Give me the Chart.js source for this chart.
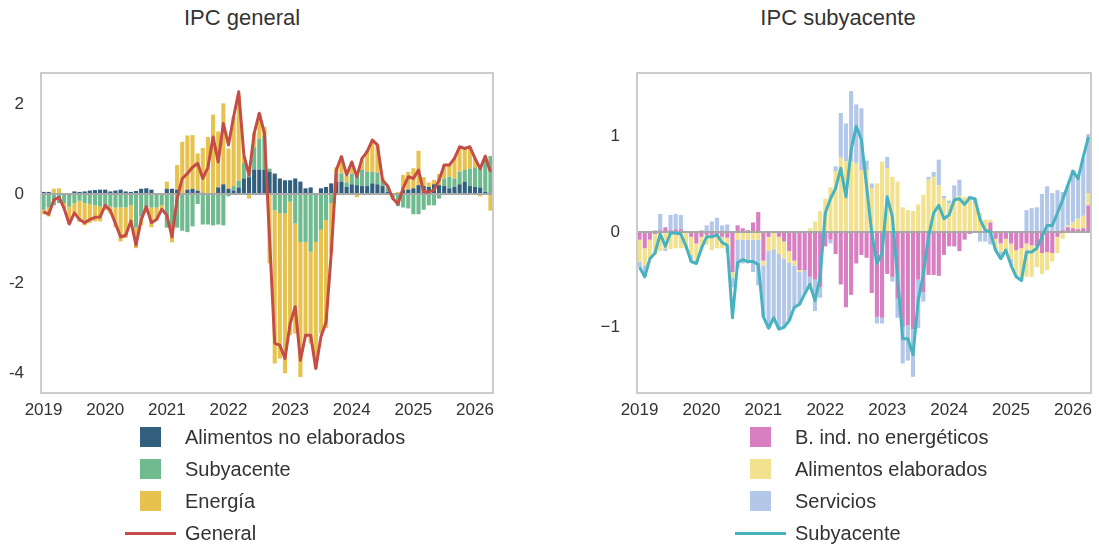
<!DOCTYPE html>
<html>
<head>
<meta charset="utf-8">
<script src="https://cdn.jsdelivr.net/npm/chart.js@4.4.1/dist/chart.umd.min.js"></script>
<style>
  body { margin: 0; background: #fff; font-family: "Liberation Sans", Arial, sans-serif; color: #333; }
  #page { position: relative; width: 1099px; height: 548px; overflow: hidden; }
  canvas { position: absolute; top: 70px; }
  .title { position: absolute; top: 6px; width: 400px; text-align: center; font-size: 22px; line-height: 24px; }
  .legend { position: absolute; top: 421px; left: 0; }
  .row { position: relative; height: 32px; }
  .box { position: absolute; top: 6px; width: 21px; height: 20px; }
  .ln { position: absolute; top: 15px; width: 51px; height: 3px; }
  .lbl { position: absolute; top: 0; font-size: 20px; line-height: 32px; white-space: nowrap; }
</style>
</head>
<body>
<div id="page">
  <div class="title" style="left:42px">IPC general</div>
  <div class="title" style="left:638px">IPC subyacente</div>
  <canvas id="chGeneral" width="496" height="360" style="left:0px"></canvas>
  <canvas id="chSubyacente" width="504" height="360" style="left:590px"></canvas>
  <div class="legend" id="legGeneral"></div>
  <div class="legend" id="legSubyacente"></div>
</div>
<script>
// months Jan 2019 .. Apr 2026
let months = [];
for (let y = 2019; y <= 2026; y++) {
  for (let k = 1; k <= 12; k++) months.push(y + "-" + (k < 10 ? "0" + k : k));
}
months = months.slice(0, 88);

let leftTicks = [-4, -2, 0, 2];
let rightTicks = [-1, 0, 1];

/* IPC general: contributions */
let alimNoElab = [
  0.05, 0.05, 0.00, 0.02, 0.00, -0.03, 0.06, 0.05, 0.06, 0.08, 0.09, 0.10,
  0.10, 0.06, 0.08, 0.10, 0.06, 0.05, 0.07, 0.12, 0.13, 0.10, 0.00, 0.00,
  0.12, 0.12, 0.10, 0.00, 0.10, 0.12, 0.08, 0.03, 0.00, 0.00, 0.15, 0.22,
  0.12, 0.08, 0.15, 0.35, 0.38, 0.55, 0.55, 0.55, 0.50, 0.46, 0.35, 0.31,
  0.31, 0.35, 0.28, 0.13, 0.15, 0.00, 0.13, 0.16, 0.24, 0.28, 0.28, 0.16,
  0.22, 0.20, 0.18, 0.18, 0.24, 0.22, 0.18, 0.05, 0.00, -0.02, 0.09, 0.10,
  0.13, 0.20, 0.18, 0.16, 0.22, 0.20, 0.18, 0.13, 0.16, 0.22, 0.28, 0.18,
  0.16, 0.15, 0.05, 0.03
];
let subyacente = [
  -0.35, -0.30, -0.25, -0.20, -0.20, -0.25, -0.20, -0.15, -0.20, -0.22, -0.25, -0.28,
  -0.30, -0.28, -0.30, -0.30, -0.30, -0.25, -0.75, -0.50, -0.30, -0.30, -0.30, -0.25,
  -0.75, -0.75, -0.75, -0.82, -0.85, -0.72, -0.22, -0.68, -0.68, -0.70, -0.68, -0.70,
  -0.05, 0.10, 0.15, 0.35, 0.15, 0.50, 0.69, 0.75, 0.07, -0.36, -0.43, -0.43,
  -0.17, -0.66, -1.07, -1.07, -1.29, -1.07, -0.80, -0.58, -0.20, 0.18, 0.18, 0.10,
  0.24, 0.25, 0.36, 0.32, 0.26, 0.26, 0.12, 0.10, -0.08, -0.25, -0.30, -0.32,
  -0.45, -0.45, -0.35, -0.25, -0.25, -0.10, 0.17, 0.26, 0.19, 0.28, 0.26, 0.39,
  0.44, 0.45, 0.79, 0.82
];
let energia = [
  -0.10, -0.20, 0.12, 0.11, -0.12, -0.39, -0.28, -0.47, -0.50, -0.43, -0.36, -0.33,
  -0.05, -0.15, -0.44, -0.76, -0.68, -0.40, -0.46, -0.20, -0.11, -0.44, -0.27, -0.09,
  0.16, -0.33, 0.55, 1.17, 1.21, 1.20, 0.83, 1.00, 1.28, 1.78, 1.25, 1.81,
  0.90, 1.55, 1.90, 0.14, -0.10, 0.31, 0.57, 0.20, -1.55, -3.43, -3.25, -3.58,
  -2.99, -2.46, -3.02, -2.12, -2.05, -2.83, -2.32, -2.42, -1.13, 0.14, 0.38, 0.15,
  0.26, -0.07, 0.26, 0.48, 0.67, 0.62, 0.07, 0.03, -0.02, 0.05, 0.34, 0.40,
  0.45, 0.77, 0.20, 0.10, 0.10, 0.25, 0.30, 0.26, 0.45, 0.52, 0.45, 0.45,
  0.20, -0.05, 0.00, -0.37
];
let general = [
  -0.40, -0.45, -0.13, -0.07, -0.32, -0.67, -0.42, -0.57, -0.64, -0.57, -0.52, -0.51,
  -0.25, -0.37, -0.66, -0.96, -0.92, -0.60, -1.14, -0.58, -0.28, -0.64, -0.57, -0.34,
  -0.47, -0.96, -0.10, 0.35, 0.46, 0.60, 0.69, 0.35, 0.60, 1.28, 0.72, 1.58,
  1.10, 1.73, 2.29, 0.87, 0.43, 1.36, 1.81, 1.36, -1.00, -3.34, -3.38, -3.68,
  -2.90, -2.52, -3.72, -3.16, -3.16, -3.90, -3.19, -2.86, -1.33, 0.54, 0.84, 0.43,
  0.72, 0.39, 0.80, 0.95, 1.21, 1.10, 0.31, 0.18, -0.10, -0.22, 0.13, 0.39,
  0.35, 0.54, 0.05, 0.05, 0.09, 0.31, 0.65, 0.65, 0.80, 1.06, 1.02, 1.06,
  0.80, 0.57, 0.85, 0.50
];

/* IPC subyacente: contributions */
let bIndNoEnerg = [
  -0.08, -0.17, -0.08, -0.02, 0.02, 0.05, 0.02, 0.03, 0.03, 0.00, -0.05, -0.12,
  -0.05, -0.03, -0.03, -0.02, -0.05, -0.06, -0.42, 0.07, 0.04, 0.02, 0.10, 0.21,
  -0.30, -0.05, 0.01, -0.05, -0.10, -0.20, -0.30, -0.40, -0.40, -0.47, -0.50, -0.58,
  -0.15, -0.08, -0.23, -0.55, -0.79, -0.66, -0.33, -0.24, -0.27, -0.64, -0.89, -0.90,
  -0.44, -0.47, -0.70, -1.00, -0.98, -1.02, -0.50, -0.63, -0.45, -0.45, -0.46, -0.24,
  -0.15, -0.15, -0.20, -0.08, -0.02, 0.00, 0.00, 0.00, 0.10, -0.07, -0.12, -0.07,
  -0.12, -0.19, -0.17, -0.12, -0.14, -0.15, -0.22, -0.21, -0.22, -0.05, 0.02, 0.05,
  0.04, 0.03, 0.04, 0.28
];
let alimElab = [
  -0.23, -0.18, -0.20, -0.22, -0.20, -0.17, -0.18, -0.17, -0.17, -0.17, -0.19, -0.18,
  -0.15, -0.10, -0.16, -0.15, -0.12, -0.16, -0.06, -0.08, -0.08, -0.08, -0.08, -0.08,
  -0.05, -0.15, -0.18, -0.18, -0.18, -0.12, -0.05, -0.02, 0.00, 0.04, 0.11, 0.22,
  0.35, 0.47, 0.64, 0.78, 0.74, 0.74, 0.72, 0.65, 0.65, 0.46, 0.51, 0.74,
  0.67, 0.58, 0.53, 0.26, 0.23, 0.22, 0.29, 0.39, 0.55, 0.58, 0.49, 0.35,
  0.30, 0.35, 0.38, 0.37, 0.35, 0.30, 0.20, 0.13, 0.03, -0.10, -0.09, -0.12,
  -0.16, -0.26, -0.32, -0.35, -0.33, -0.22, -0.22, -0.19, -0.09, -0.17, -0.07, 0.02,
  0.06, 0.11, 0.13, 0.13
];
let servicios = [
  -0.06, -0.12, 0.01, 0.02, 0.17, -0.03, 0.16, 0.16, 0.15, 0.00, -0.07, -0.03,
  0.02, 0.07, 0.11, 0.15, 0.07, 0.08, -0.10, -0.30, -0.25, -0.25, -0.34, -0.48,
  -0.54, -0.81, -0.73, -0.79, -0.72, -0.61, -0.45, -0.34, -0.25, -0.12, -0.33, -0.11,
  0.00, -0.04, 0.05, 0.47, 0.40, 0.74, 0.62, 0.65, 0.10, 0.05, -0.07, -0.06,
  0.12, -0.05, -0.20, -0.38, -0.37, -0.50, -0.51, -0.10, 0.03, 0.05, 0.27, 0.03,
  0.03, 0.14, 0.17, 0.00, 0.03, 0.05, -0.10, -0.10, -0.13, -0.02, -0.07, 0.00,
  -0.07, -0.02, -0.02, 0.23, 0.25, 0.26, 0.40, 0.48, 0.41, 0.44, 0.40, 0.42,
  0.55, 0.46, 0.60, 0.62
];
let subyacenteLine = [
  -0.37, -0.47, -0.28, -0.22, -0.02, -0.15, -0.01, -0.01, -0.02, -0.15, -0.31, -0.33,
  -0.17, -0.05, -0.05, -0.03, -0.11, -0.14, -0.90, -0.32, -0.29, -0.31, -0.31, -0.34,
  -0.89, -1.01, -0.90, -1.02, -1.00, -0.93, -0.79, -0.76, -0.65, -0.55, -0.72, -0.47,
  0.20, 0.35, 0.46, 0.67, 0.37, 0.86, 1.11, 0.97, 0.48, -0.01, -0.33, -0.22,
  0.37, 0.16, -0.47, -1.12, -1.12, -1.29, -0.72, -0.44, -0.05, 0.20, 0.28, 0.14,
  0.18, 0.34, 0.35, 0.29, 0.36, 0.35, 0.13, 0.02, 0.00, -0.19, -0.28, -0.19,
  -0.35, -0.47, -0.51, -0.21, -0.21, -0.17, -0.05, 0.07, 0.07, 0.20, 0.34, 0.49,
  0.64, 0.56, 0.79, 1.00
];

let textColor = "#333333";
let fontFamily = '"Liberation Sans", Arial, sans-serif';

// zero line over the bars and a light frame round the plot
let framePlugin = {
  id: "frame",
  afterDatasetDraw: function (chart, args) {
    if (args.index !== 0) return;
    let c = chart.ctx;
    let a = chart.chartArea;
    let y0 = chart.scales.y.getPixelForValue(0);
    c.save();
    c.strokeStyle = "#a8a8a8";
    c.lineWidth = 2;
    c.beginPath();
    c.moveTo(a.left, y0);
    c.lineTo(a.right, y0);
    c.stroke();
    c.restore();
  },
  afterDraw: function (chart) {
    let c = chart.ctx;
    let a = chart.chartArea;
    c.save();
    c.strokeStyle = "#cccccc";
    c.lineWidth = 2;
    c.strokeRect(a.left, a.top, a.right - a.left, a.bottom - a.top);
    c.restore();
  },
};

function barSet(label, data, color) {
  return {
    type: "bar",
    label: label,
    data: data,
    backgroundColor: color,
    borderWidth: 0,
    barPercentage: 0.8,
    categoryPercentage: 1.0,
    stack: "bars",
    order: 1,
  };
}

function lineSet(label, data, color) {
  return {
    type: "line",
    label: label,
    data: data,
    borderColor: color,
    borderWidth: 3,
    pointRadius: 0,
    tension: 0,
    fill: false,
    borderJoinStyle: "round",
    stack: "line",
    order: 0,
  };
}

function makeChart(id, datasets, yMin, yMax, yTicks, yWidth, minusSign) {
  return new Chart(document.getElementById(id), {
    data: { labels: months, datasets: datasets },
    options: {
      responsive: false,
      animation: false,
      layout: { padding: { left: 0, right: 3, top: 3, bottom: 0 } },
      plugins: { legend: { display: false }, tooltip: { enabled: false } },
      scales: {
        x: {
          stacked: true,
          grid: { display: false, drawTicks: false },
          border: { display: false },
          afterFit: function (scale) {
            scale.height = 37;
            scale.paddingLeft = 0;
            scale.paddingRight = 0;
          },
          ticks: {
            autoSkip: false,
            maxRotation: 0,
            padding: 7,
            color: textColor,
            font: { family: fontFamily, size: 17 },
            callback: function (v, i) {
              return i % 12 === 0 ? months[i].slice(0, 4) : "";
            },
          },
        },
        y: {
          stacked: true,
          min: yMin,
          max: yMax,
          grid: { display: false, drawTicks: false },
          border: { display: false },
          afterFit: function (scale) {
            scale.width = yWidth;
            scale.paddingTop = 0;
            scale.paddingBottom = 0;
          },
          afterBuildTicks: function (scale) {
            scale.ticks = yTicks.map(function (v) { return { value: v }; });
          },
          ticks: {
            padding: 17,
            color: textColor,
            font: { family: fontFamily, size: 17 },
            callback: function (v) {
              return v < 0 ? minusSign + Math.abs(v) : String(v);
            },
          },
        },
      },
    },
    plugins: [framePlugin],
  });
}

let colors = {
  alim: "#315f7d",
  suby: "#6fba8e",
  ener: "#e8c24f",
  gen: "#c44d45",
  bind: "#d77fc0",
  elab: "#f2e18e",
  serv: "#b3c7e8",
  core: "#48b3bf",
};

makeChart("chGeneral", [
  barSet("Alimentos no elaborados", alimNoElab, colors.alim),
  barSet("Subyacente", subyacente, colors.suby),
  barSet("Energía", energia, colors.ener),
  lineSet("General", general, colors.gen),
], -4.45, 2.71, leftTicks, 41, "-");

makeChart("chSubyacente", [
  barSet("B. ind. no energéticos", bIndNoEnerg, colors.bind),
  barSet("Alimentos elaborados", alimElab, colors.elab),
  barSet("Servicios", servicios, colors.serv),
  lineSet("Subyacente", subyacenteLine, colors.core),
], -1.69, 1.67, rightTicks, 47, "\u2212");

// html legends, one entry per row
function buildLegend(id, items, boxLeft, lineLeft, textLeft) {
  let html = "";
  items.forEach(function (it) {
    html += '<div class="row">';
    if (it.line) {
      html += '<div class="ln" style="left:' + lineLeft + "px;background:" + it.color + '"></div>';
    } else {
      html += '<div class="box" style="left:' + boxLeft + "px;background:" + it.color + '"></div>';
    }
    html += '<div class="lbl" style="left:' + textLeft + 'px">' + it.label + "</div></div>";
  });
  document.getElementById(id).innerHTML = html;
}

buildLegend("legGeneral", [
  { label: "Alimentos no elaborados", color: colors.alim },
  { label: "Subyacente", color: colors.suby },
  { label: "Energía", color: colors.ener },
  { label: "General", color: colors.gen, line: true },
], 140, 125, 185);

buildLegend("legSubyacente", [
  { label: "B. ind. no energéticos", color: colors.bind },
  { label: "Alimentos elaborados", color: colors.elab },
  { label: "Servicios", color: colors.serv },
  { label: "Subyacente", color: colors.core, line: true },
], 750, 735, 795);
</script>
</body>
</html>
